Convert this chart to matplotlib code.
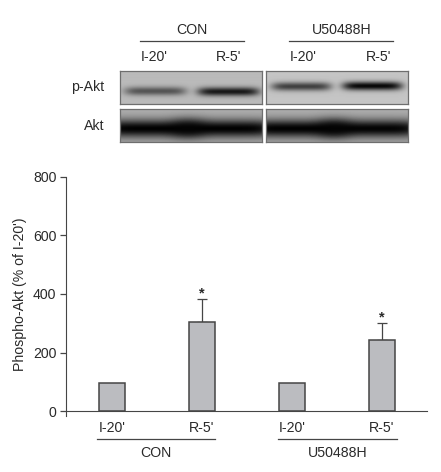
import numpy as np
from matplotlib import pyplot as plt

plt.rcParams["font.family"] = ["Liberation Sans", "DejaVu Sans"]

W, H = 441, 472

conditions = ["I-20'", "R-5'", "I-20'", "R-5'"]
groups = ["CON", "U50488H"]
values = [96, 305, 95, 242]
errors = [0, 78, 0, 60]
stars = ["", "*", "", "*"]

# band darkness per lane, p-Akt row then Akt row
pakt_dark = [[0.55, 0.88], [0.68, 0.97]]
akt_dark = [[0.99, 0.99], [0.99, 0.98]]

TEXT = "#2a2a2a"
LINE = "#454545"
FS = 10.2


def px_axes(fig, x0, y0, x1, y1):
    return fig.add_axes([x0 / W, 1 - y1 / H, (x1 - x0) / W, (y1 - y0) / H])


def blot(ax, dark, lanes, centers, half_h, half_w, bg):
    h, w = 33, 142
    yy, xx = np.mgrid[0:h, 0:w]
    img = np.full((h, w), bg, dtype=float)
    for d, lane, cy in zip(dark, lanes, centers):
        xprof = np.exp(-(((xx - lane) / half_w) ** 6))
        yprof = np.exp(-(((yy - cy) / half_h) ** 2))
        img = img * (1 - d * xprof * yprof)
    ax.imshow(img, cmap="gray", vmin=0, vmax=1, aspect="auto", interpolation="bilinear")
    ax.set_xticks([])
    ax.set_yticks([])
    for s in ax.spines.values():
        s.set_color("#6e6e6e")
        s.set_linewidth(0.9)


fig = plt.figure(figsize=(W / 100, H / 100), dpi=100)

# blots
blot(px_axes(fig, 120, 71, 262, 104), pakt_dark[0], [35, 108], [20, 20.5], 4.2, 31, 0.73)
blot(px_axes(fig, 266, 71, 408, 104), pakt_dark[1], [35, 106], [15.5, 15], 4.2, 30, 0.77)
blot(px_axes(fig, 120, 109, 262, 142), akt_dark[0], [30, 105], [19, 19], 9, 52, 0.68)
blot(px_axes(fig, 266, 109, 408, 142), akt_dark[1], [30, 105], [19, 19], 9, 52, 0.68)

# bar chart
ax = px_axes(fig, 66, 176.6, 427, 411.3)
x = np.arange(len(values))
ax.bar(x, values, width=0.285, color="#bbbcc0", edgecolor=LINE, linewidth=1.1, zorder=2)
for xi, v, e, s in zip(x, values, errors, stars):
    if e:
        ax.errorbar(xi, v, yerr=[[0], [e]], color=LINE, elinewidth=0.9,
                    capsize=3.5, capthick=0.9, zorder=1)
        ax.text(xi, v + e - 6, s, ha="center", va="bottom", fontsize=10.5,
                fontweight="bold", color=TEXT)

ax.set_xlim(-0.508, 3.503)
ax.set_ylim(0, 800)
ax.set_yticks([0, 200, 400, 600, 800])
ax.set_xticks(x)
ax.set_xticklabels(conditions)
ax.tick_params(axis="y", length=4.5, width=0.9, color=LINE, labelsize=FS, labelcolor=TEXT, pad=2.5)
ax.tick_params(axis="x", length=0, labelsize=FS, labelcolor=TEXT, pad=7)
ax.set_ylabel("Phospho-Akt (% of I-20')", fontsize=FS, color=TEXT, labelpad=4)
ax.spines["top"].set_visible(False)
ax.spines["right"].set_visible(False)
ax.spines["left"].set_color(LINE)
ax.spines["bottom"].set_color(LINE)
ax.spines["left"].set_bounds(-4.7 / 234.7 * 800, 800)


def px_text(x, y, s, **kw):
    fig.text(x / W, 1 - y / H, s, ha="center", va="center", fontsize=FS, color=TEXT, **kw)


def px_line(x0, x1, y):
    fig.add_artist(plt.Line2D([x0 / W, x1 / W], [1 - y / H, 1 - y / H], color=LINE, lw=0.9))


# upper labels
px_line(140, 244, 41)
px_line(289, 393, 41)
px_text(192, 30, groups[0])
px_text(342, 30, groups[1])
for xp, lab in zip([154, 229, 303, 379], conditions):
    px_text(xp, 57, lab)
px_text(88, 87, "p-Akt")
px_text(94, 126, "Akt")

# lower group labels
px_line(97, 215, 438.5)
px_line(278, 397, 438.5)
px_text(156, 453, groups[0])
px_text(338, 453, groups[1])

fig.savefig("out.png", dpi=100)
